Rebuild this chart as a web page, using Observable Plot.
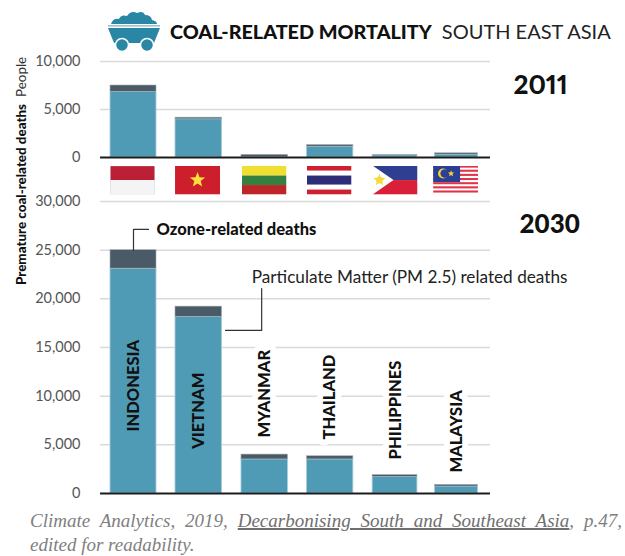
<!DOCTYPE html>
<html>
<head>
<meta charset="utf-8">
<script src="https://cdn.jsdelivr.net/npm/d3@7"></script>
<script src="https://cdn.jsdelivr.net/npm/@observablehq/plot@0.6"></script>
<style>
  html, body { margin: 0; padding: 0; background: #fff; }
  #page { position: relative; width: 625px; height: 556px; overflow: hidden; font-family: Lato, sans-serif; }
  #page > svg, #page > div { position: absolute; }
  #title { left: 170px; top: 17px; line-height: 28px; white-space: nowrap; color: #111; }
  #title b { font-weight: 900; font-size: 19.8px; }
  #title span { font-weight: 400; font-size: 20px; margin-left: 10px; color: #222; }
  #ytitle { left: 20px; top: 285px; transform-origin: 0 0; transform: rotate(-90deg) translateY(-10.5px); white-space: nowrap; color: #111; }
  #ytitle b { font-weight: 900; font-size: 13.4px; }
  #ytitle span { font-weight: 400; font-size: 13.4px; margin-left: 7px; color: #333; }
  #caption { left: 30px; top: 509px; width: 592px; font-family: "Liberation Serif", serif; font-style: italic; font-size: 19px; line-height: 24px; color: #808080; }
  #caption div:first-child { text-align: justify; text-align-last: justify; }
  #caption u { color: #6f6f6f; text-decoration-thickness: 1.5px; }
</style>
</head>
<body>
<div id="page">
  <svg id="logo" style="left:107px;top:9px" width="54" height="43" viewBox="0 0 54 43">
    <path d="M4 15 Q6 9 12 10 Q14 5 20 7 Q24 1 30 4 Q36 1 38 6 Q44 6 45 11 Q50 12 50 15 Z" fill="#2a86a5"/>
    <rect x="1" y="16.2" width="52" height="1.3" fill="#2a86a5" opacity=".6"/>
    <path d="M1 19 H53 L47 34 H7 Z" fill="#2a86a5"/>
    <circle cx="15" cy="36" r="6.5" fill="#2a86a5" stroke="#fff" stroke-width="1.5"/>
    <circle cx="40" cy="36" r="6.5" fill="#2a86a5" stroke="#fff" stroke-width="1.5"/>
  </svg>
  <div id="title"><b>COAL-RELATED MORTALITY</b><span>SOUTH EAST ASIA</span></div>
  <div id="ytitle"><b>Premature coal-related deaths</b><span>People</span></div>
  <div id="caption"><div>Climate Analytics, 2019, <u>Decarbonising South and Southeast Asia</u>, p.47,</div><div>edited for readability.</div></div>
</div>
<script>
const countries = ["INDONESIA", "VIETNAM", "MYANMAR", "THAILAND", "PHILIPPINES", "MALAYSIA"];
const pm2011 = [6830, 3980, 40, 1130, 230, 300];
const total2011 = [7500, 4150, 280, 1300, 250, 440];
const pm2030 = [23100, 18150, 3500, 3500, 1700, 720];
const total2030 = [25000, 19200, 4000, 3830, 1900, 890];
const labelBase = [6370, 4600, 5750, 5550, 3500, 2150];
const ticks2011 = [0, 5000, 10000];
const ticks2030 = [0, 5000, 10000, 15000, 20000, 25000, 30000];
const ozoneLabel = "Ozone-related deaths";
const pmLabel = "Particulate Matter (PM 2.5) related deaths";

const flag = body => "data:image/svg+xml," + encodeURIComponent(
  `<svg xmlns="http://www.w3.org/2000/svg" width="45" height="29" viewBox="0 0 45 29">${body}</svg>`);
const star = (cx, cy, r, fill) => {
  const pts = d3.range(10).map(k => {
    const a = -Math.PI / 2 + k * Math.PI / 5, q = k % 2 ? r * 0.42 : r;
    return `${cx + q * Math.cos(a)},${cy + q * Math.sin(a)}`;
  }).join(" ");
  return `<polygon points="${pts}" fill="${fill}"/>`;
};
const flags = [
  flag(`<rect width="45" height="14.5" fill="#bb2036"/><rect y="14.5" width="45" height="14.5" fill="#f3f4f3"/><rect x=".3" y=".3" width="44.4" height="28.4" fill="none" stroke="#d9dadb" stroke-width=".6"/>`),
  flag(`<rect width="45" height="29" fill="#cc1f2b"/>` + star(22.5, 14.5, 8, "#fbdf3c")),
  flag(`<rect width="45" height="10" fill="#f0df2e"/><rect y="10" width="45" height="9.5" fill="#33803f"/><rect y="19.5" width="45" height="9.5" fill="#bd2528"/>`),
  flag(`<rect width="45" height="29" fill="#fff"/><rect width="45" height="5" fill="#cf2030"/><rect y="10" width="45" height="9" fill="#2e2e78"/><rect y="24" width="45" height="5" fill="#cf2030"/>`),
  flag(`<rect width="45" height="14.5" fill="#2e3f92"/><rect y="14.5" width="45" height="14.5" fill="#da1f38"/><polygon points="0,0 21,14.5 0,29" fill="#fff"/><circle cx="7" cy="14.5" r="3.4" fill="#f7d940"/>` + star(7, 14.5, 6.5, "#f7d940")),
  flag(d3.range(7).map(k => `<rect y="${k * 4.15}" width="45" height="2.07" fill="#e0344a"/>`).join("") + `<rect width="27" height="16.5" fill="#2b3f93"/><circle cx="10" cy="8" r="5" fill="#f5d93a"/><circle cx="11.5" cy="8" r="4.2" fill="#2b3f93"/>` + star(18, 8, 3.4, "#f5d93a"))
];

const idx = d3.range(countries.length);
const halfBar = 0.354;
const slotCentre = d3.scaleLinear(idx, [133, 198, 264.5, 329.5, 395.5, 456]);
const xScale = {type: "linear", domain: [100, 490], range: [100, 490], transform: slotCentre, axis: null};
const pmFill = "#4f9bb5", ozFill = "#4a5a66", grid = "#dadada", tickInk = "#555";

const bars = (pm, total) => [
  Plot.rect(idx, {x1: i => i - halfBar, x2: i => i + halfBar, y1: () => 0, y2: i => pm[i], fill: pmFill, stroke: "#a9cfdc", strokeWidth: 0.8}),
  Plot.rect(idx, {x1: i => i - halfBar, x2: i => i + halfBar, y1: i => pm[i], y2: i => total[i], fill: ozFill, stroke: "#a8b2b9", strokeWidth: 0.6})
];
const yAxis = ticks => Plot.axisY(ticks, {tickSize: 0, tickPadding: 20, tickFormat: d3.format(","), fontSize: 14.5, fill: tickInk, label: null});

const upper = Plot.plot({
  width: 625, height: 200, marginLeft: 100, marginRight: 135, marginTop: 0, marginBottom: 0,
  style: {fontFamily: "Lato, sans-serif", background: "transparent", overflow: "visible"},
  x: xScale,
  y: {domain: [0, 10000], range: [157, 61], axis: null},
  marks: [
    Plot.ruleY(ticks2011.filter(t => t > 0), {stroke: grid, strokeWidth: 1.5}),
    yAxis(ticks2011),
    ...bars(pm2011, total2011),
    Plot.ruleY([0], {stroke: "#1c1c1c", strokeWidth: 2}),
    Plot.image(idx, {x: i => i - 0.015, y: () => -2350, src: i => flags[i], width: 45, height: 29, preserveAspectRatio: "none"}),
    Plot.text(["2011"], {frameAnchor: "top-left", dx: 413, dy: 85, text: d => d, fontSize: 26, fontWeight: 900, fontVariant: "proportional-nums", fill: "#111", lineAnchor: "middle", textAnchor: "start"})
  ]
});

const lower = Plot.plot({
  width: 625, height: 305, marginLeft: 100, marginRight: 135, marginTop: 0, marginBottom: 0,
  style: {fontFamily: "Lato, sans-serif", background: "transparent", overflow: "visible"},
  x: xScale,
  y: {domain: [0, 30000], range: [298, 6], axis: null},
  marks: [
    Plot.ruleY(ticks2030.filter(t => t > 0), {stroke: grid, strokeWidth: 1.5}),
    yAxis(ticks2030),
    ...bars(pm2030, total2030),
    Plot.ruleY([0], {stroke: "#1c1c1c", strokeWidth: 2}),
    Plot.text(idx.filter(i => i >= 2), {x: i => i, y: i => labelBase[i], text: i => countries[i], rotate: -90, textAnchor: "start", lineAnchor: "middle", fontSize: 16.5, fontWeight: 900, fill: "#111", stroke: "#fff", strokeWidth: 12}),
    Plot.text(idx.filter(i => i < 2), {x: i => i, y: i => labelBase[i], text: i => countries[i], rotate: -90, textAnchor: "start", lineAnchor: "middle", fontSize: 16.5, fontWeight: 900, fill: "#111"}),
    Plot.line([[0, 25000], [0, 27130], [0.23, 27130]], {x: d => d[0], y: d => d[1], stroke: "#333", strokeWidth: 1.2}),
    Plot.text([ozoneLabel], {x: () => 0.354, y: () => 27130, text: d => d, textAnchor: "start", lineAnchor: "middle", fontSize: 16.5, fontWeight: 900, fill: "#111"}),
    Plot.line([[1.406, 16750], [1.95, 16750], [1.95, 21060]], {x: d => d[0], y: d => d[1], stroke: "#333", strokeWidth: 1.2}),
    Plot.text([pmLabel], {x: () => 1.8, y: () => 22200, text: d => d, textAnchor: "start", lineAnchor: "middle", fontSize: 17.2, fontWeight: 400, fill: "#222"}),
    Plot.text(["2030"], {frameAnchor: "top-left", dx: 419, dy: 29, text: d => d, fontSize: 26, fontWeight: 900, fill: "#111", lineAnchor: "middle", textAnchor: "start"})
  ]
});

const page = document.getElementById("page");
upper.style.top = "0px"; upper.style.left = "0"; upper.style.position = "absolute";
lower.style.top = "195px"; lower.style.left = "0"; lower.style.position = "absolute";
page.insertBefore(upper, page.firstChild);
page.insertBefore(lower, upper.nextSibling);
</script>
</body>
</html>
